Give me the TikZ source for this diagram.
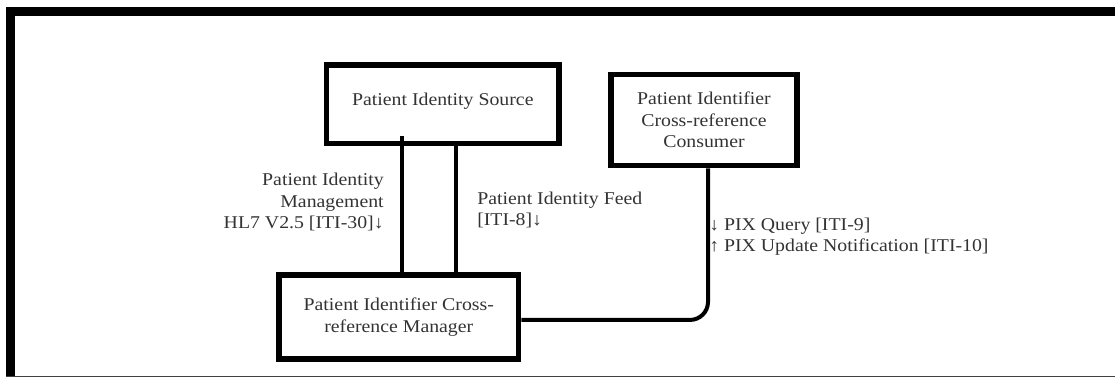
\documentclass[tikz,border=0pt]{standalone}
\usepackage{fontspec}
\setmainfont{Liberation Serif}[FakeStretch=1.1]
\begin{document}
\begin{tikzpicture}[x=0.75pt,y=-0.75pt,
  txt/.style={text=black!80, font=\fontsize{13.5}{16.1}\selectfont, inner sep=0pt},
  actor/.style={txt, draw=black, line width=4.3pt, align=center},
  conn/.style={draw=black, line width=3pt},
  lbl/.style={txt}]
\useasboundingbox (0,0) rectangle (1115,379);

% page frame: heavy top and left rules, thin bottom rule
\fill[black] (6,7) rectangle (1115,16);
\fill[black] (6,7) rectangle (15,377);
\draw[black!75, line width=1.2pt] (6,376.6) -- (1115,376.6);

% actors
\node[actor, minimum width=174.4pt, minimum height=58.9pt] (src) at (442.8,104.2)
  {\raisebox{7pt}{Patient Identity Source}};
\node[actor, minimum width=139.5pt, minimum height=68.2pt] (con) at (704,120)
  {Patient Identifier\\Cross-reference\\Consumer};
\node[actor, minimum width=179.6pt, minimum height=63pt] (mgr) at (398.8,317)
  {Patient Identifier Cross-\\reference Manager};

% transactions between source and manager
\coordinate (srcA) at ([xshift=-30.9pt, yshift=7.9pt]src.south);
\coordinate (srcB) at ([xshift=9.9pt]src.south);
\draw[conn] (srcA) -- (srcA |- mgr.north);
\draw[conn] (srcB) -- (srcB |- mgr.north);

% transaction between consumer and manager
\coordinate (conB) at ([xshift=3pt]con.south);
\coordinate (mgrE) at ([yshift=-2.2pt]mgr.east);
\draw[conn, rounded corners=13.5pt] (conB) -- (conB |- mgrE) -- (mgrE);

% transaction labels
\node[lbl, anchor=east, align=right] (lblA) at (384,202)
  {Patient Identity\\Management\\HL7 V2.5 [ITI-30]↓};
\node[lbl, anchor=west, align=left] (lblB) at (477,210)
  {Patient Identity Feed\\{[ITI-8]}↓};
\node[lbl, anchor=west, align=left] (lblC) at (709,236.5)
  {↓ PIX Query [ITI-9]\\↑ PIX Update Notification [ITI-10]};
\end{tikzpicture}
\end{document}
